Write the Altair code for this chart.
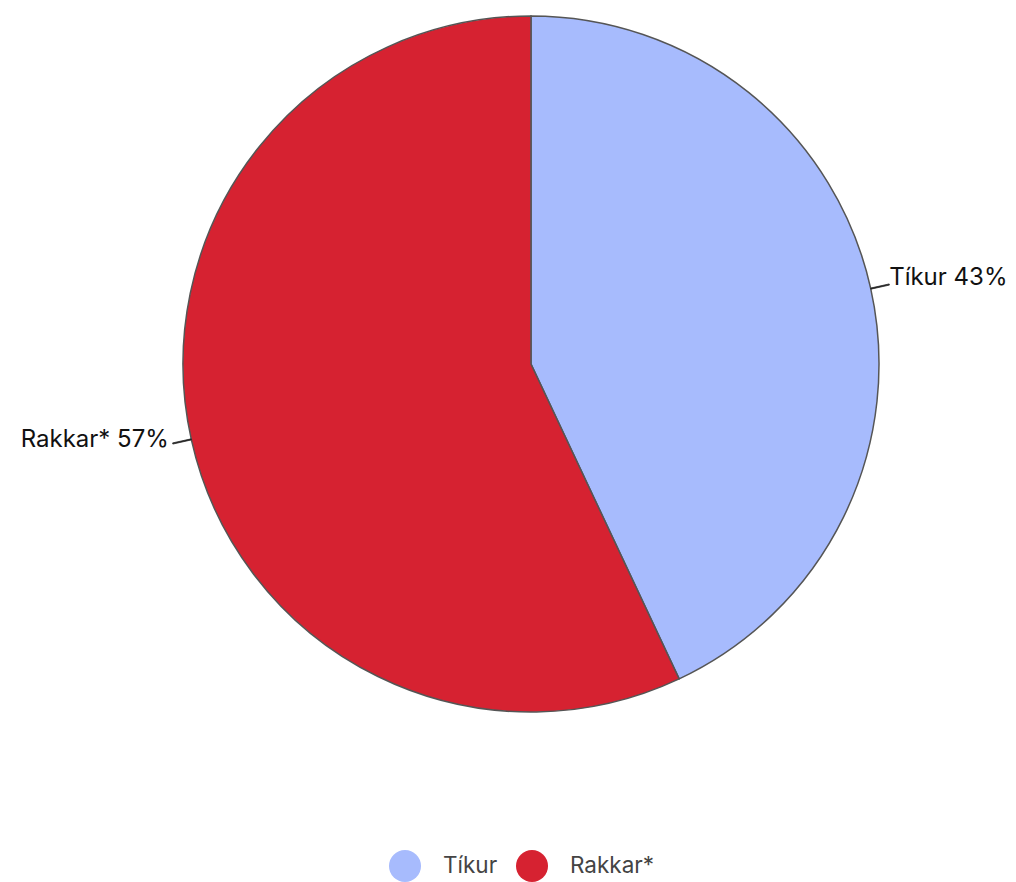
import altair as alt
import pandas as pd

categories = ["Tíkur", "Rakkar*"]
values = [43, 57]
order = [0, 1]
colors = ["#a7bbfd", "#d62231"]

df = pd.DataFrame({"category": categories, "value": values, "order": order})
df["label"] = [f"{c} {v}%" for c, v in zip(categories, values)]

CX, CY = 523, 356
R = 348
FONT = "Inter"

theta_scale = alt.Scale(domain=[0, 100])

base = alt.Chart(df)

pie = base.mark_arc(
    x=CX, y=CY, outerRadius=R, stroke="#555555", strokeWidth=1.5
).encode(
    theta=alt.Theta("value:Q", stack=True, scale=theta_scale),
    color=alt.Color(
        "category:N",
        scale=alt.Scale(domain=categories, range=colors),
        sort=categories,
        legend=alt.Legend(
            title=None,
            orient="none",
            direction="horizontal",
            legendX=381,
            legendY=842,
            symbolType="circle",
            symbolSize=1024,
            symbolStrokeWidth=0,
            labelFont=FONT,
            labelFontSize=22.5,
            labelColor="#444444",
            labelOffset=22,
            columnPadding=18,
            padding=0,
        ),
    ),
    order=alt.Order("order:Q"),
)

leaders = base.transform_window(
    cum="sum(value)", sort=[alt.SortField("order")], frame=[None, 0]
).transform_calculate(
    mid="datum.cum - datum.value / 2", mid2="datum.cum - datum.value / 2 + 0.05"
).mark_arc(
    x=CX, y=CY, innerRadius=R, outerRadius=R + 19, stroke="#222222", strokeWidth=0.8, fill="#222222"
).encode(
    theta=alt.Theta("mid:Q", scale=theta_scale, stack=None),
    theta2="mid2:Q",
)

label_right = base.mark_text(
    x=CX, y=CY, radius=R + 20, align="left", baseline="alphabetic", dx=-1, dy=1,
    font=FONT, fontSize=24, color="#111111"
).encode(
    theta=alt.Theta("value:Q", stack=True, scale=theta_scale),
    order=alt.Order("order:Q"),
    text=alt.condition("datum.order == 0", "label:N", alt.value("")),
)

label_left = base.mark_text(
    x=CX, y=CY, radius=R + 20, align="right", baseline="alphabetic", dx=-3, dy=3,
    font=FONT, fontSize=24, color="#111111"
).encode(
    theta=alt.Theta("value:Q", stack=True, scale=theta_scale),
    order=alt.Order("order:Q"),
    text=alt.condition("datum.order == 1", "label:N", alt.value("")),
)

chart = alt.layer(pie, leaders, label_right, label_left).properties(
    width=1000, height=874, padding=0,
    autosize=alt.AutoSizeParams(type="none"),
).configure_view(stroke=None)

chart.save("out.html", embed_options={"renderer": "svg", "actions": False})
